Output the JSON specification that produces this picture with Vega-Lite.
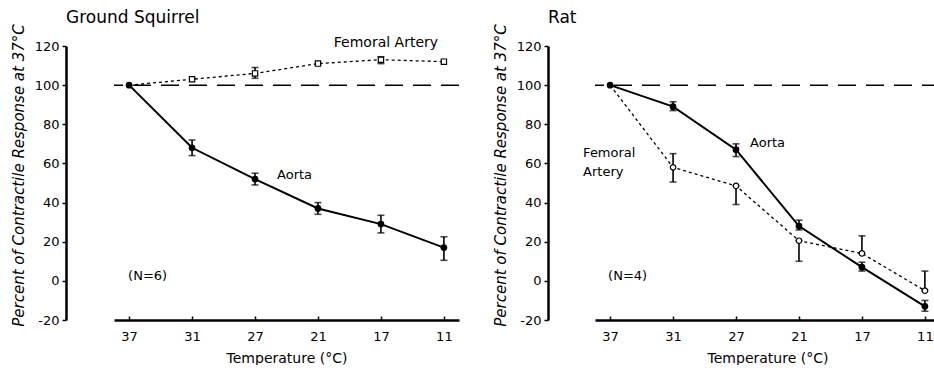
{
  "$schema": "https://vega.github.io/schema/vega-lite/v6.json",
  "background": "white",
  "padding": {"left": 11, "top": 8, "right": 0, "bottom": 0},
  "config": {
    "view": {"stroke": null},
    "font": "DejaVu Sans",
    "axis": {"labelFont": "DejaVu Sans", "titleFont": "DejaVu Sans", "labelColor": "#000", "titleColor": "#000", "domainColor": "#000", "tickColor": "#000", "grid": false, "labelFontSize": 13, "titleFontSize": 14, "titleFontWeight": "normal", "labelOverlap": false},
    "title": {"font": "DejaVu Sans", "fontSize": 17, "fontWeight": "normal", "color": "#000", "anchor": "start", "frame": "group"},
    "concat": {"spacing": 33}
  },
  "datasets": {
    "pts": [
      {"panel": "Ground Squirrel", "series": "Aorta", "temp": "37", "value": 100, "lo": null, "hi": null},
      {"panel": "Ground Squirrel", "series": "Aorta", "temp": "31", "value": 68, "lo": 64, "hi": 72},
      {"panel": "Ground Squirrel", "series": "Aorta", "temp": "27", "value": 52, "lo": 49, "hi": 55},
      {"panel": "Ground Squirrel", "series": "Aorta", "temp": "21", "value": 37, "lo": 34, "hi": 40},
      {"panel": "Ground Squirrel", "series": "Aorta", "temp": "17", "value": 29, "lo": 24.5, "hi": 33.5},
      {"panel": "Ground Squirrel", "series": "Aorta", "temp": "11", "value": 17, "lo": 10.5, "hi": 22.5},
      {"panel": "Ground Squirrel", "series": "Femoral Artery", "temp": "37", "value": 100, "lo": null, "hi": null},
      {"panel": "Ground Squirrel", "series": "Femoral Artery", "temp": "31", "value": 103, "lo": null, "hi": null},
      {"panel": "Ground Squirrel", "series": "Femoral Artery", "temp": "27", "value": 106, "lo": 103.5, "hi": 109},
      {"panel": "Ground Squirrel", "series": "Femoral Artery", "temp": "21", "value": 111, "lo": null, "hi": null},
      {"panel": "Ground Squirrel", "series": "Femoral Artery", "temp": "17", "value": 113, "lo": 111, "hi": 114.5},
      {"panel": "Ground Squirrel", "series": "Femoral Artery", "temp": "11", "value": 112, "lo": null, "hi": null},
      {"panel": "Rat", "series": "Aorta", "temp": "37", "value": 100, "lo": null, "hi": null},
      {"panel": "Rat", "series": "Aorta", "temp": "31", "value": 89, "lo": 87, "hi": 91.5},
      {"panel": "Rat", "series": "Aorta", "temp": "27", "value": 67, "lo": 63.5, "hi": 70},
      {"panel": "Rat", "series": "Aorta", "temp": "21", "value": 28, "lo": 26, "hi": 31},
      {"panel": "Rat", "series": "Aorta", "temp": "17", "value": 7, "lo": 5, "hi": 9.5},
      {"panel": "Rat", "series": "Aorta", "temp": "11", "value": -13, "lo": -15.5, "hi": -10},
      {"panel": "Rat", "series": "Femoral Artery", "temp": "37", "value": 100, "lo": null, "hi": null},
      {"panel": "Rat", "series": "Femoral Artery", "temp": "31", "value": 58, "lo": 50.5, "hi": 65},
      {"panel": "Rat", "series": "Femoral Artery", "temp": "27", "value": 48.5, "lo": 39, "hi": 48.5},
      {"panel": "Rat", "series": "Femoral Artery", "temp": "21", "value": 20.5, "lo": 10, "hi": 20.5},
      {"panel": "Rat", "series": "Femoral Artery", "temp": "17", "value": 14, "lo": 14, "hi": 23},
      {"panel": "Rat", "series": "Femoral Artery", "temp": "11", "value": -5, "lo": -5, "hi": 5}
    ]
  },
  "hconcat": [
    {
      "width": 345,
      "height": 274,
      "title": {"text": "Ground  Squirrel", "dx": -48, "offset": -3},
      "data": {"name": "pts"},
      "transform": [{"filter": "datum.panel == 'Ground Squirrel'"}],
      "layer": [
        {
          "transform": [{"filter": "datum.series == 'Femoral Artery'"}],
          "mark": {"type": "line", "color": "#000", "strokeWidth": 1.3, "strokeDash": [3, 3]},
          "encoding": {
            "x": {"field": "temp", "type": "ordinal", "sort": ["37", "31", "27", "21", "17", "11"], "scale": {"type": "point", "padding": 0.24}, "axis": {"title": "Temperature  (°C)", "labelAngle": 0, "domainWidth": 2.5, "tickSize": -4, "tickWidth": 1.5, "labelPadding": 14, "titlePadding": 8}},
            "y": {"field": "value", "type": "quantitative", "title": "Percent of Contractile Response at 37°C", "scale": {"domain": [-20, 120], "nice": false}, "axis": {"values": [-20, 0, 20, 40, 60, 80, 100, 120], "tickCount": 8, "labelOverlap": false, "labelBound": false, "labelFlush": false, "labelExpr": "'' + datum.value", "offset": 48, "domainWidth": 2.5, "tickSize": 4, "tickWidth": 1.5, "labelPadding": 3, "titleFontStyle": "italic", "titleFontSize": 15, "titlePadding": 8, "titleY": 129}}
          }
        },
        {
          "data": {"values": [{}]},
          "mark": {"type": "rule", "color": "#000", "strokeWidth": 1.5, "strokeDash": [18, 10]},
          "encoding": {"y": {"datum": 100, "type": "quantitative"}}
        },
        {
          "transform": [{"filter": "datum.series == 'Aorta'"}],
          "mark": {"type": "line", "color": "#000", "strokeWidth": 2},
          "encoding": {
            "x": {"field": "temp", "type": "ordinal", "sort": ["37", "31", "27", "21", "17", "11"]},
            "y": {"field": "value", "type": "quantitative", "title": "Percent of Contractile Response at 37°C"}
          }
        },
        {
          "transform": [{"filter": "datum.lo != null"}],
          "mark": {"type": "errorbar", "color": "#000", "thickness": 1.6, "ticks": {"size": 7, "thickness": 1.6}},
          "encoding": {
            "x": {"field": "temp", "type": "ordinal", "sort": ["37", "31", "27", "21", "17", "11"]},
            "y": {"field": "lo", "type": "quantitative", "title": "Percent of Contractile Response at 37°C"},
            "y2": {"field": "hi"}
          }
        },
        {
          "transform": [{"filter": "datum.series == 'Femoral Artery' && datum.temp != '37'"}],
          "mark": {"type": "point", "shape": "square", "filled": true, "fill": "white", "stroke": "#000", "strokeWidth": 1.2, "size": 28, "opacity": 1},
          "encoding": {
            "x": {"field": "temp", "type": "ordinal", "sort": ["37", "31", "27", "21", "17", "11"]},
            "y": {"field": "value", "type": "quantitative", "title": "Percent of Contractile Response at 37°C"}
          }
        },
        {
          "transform": [{"filter": "datum.series == 'Aorta'"}],
          "mark": {"type": "point", "shape": "circle", "filled": true, "color": "#000", "size": 45, "opacity": 1},
          "encoding": {
            "x": {"field": "temp", "type": "ordinal", "sort": ["37", "31", "27", "21", "17", "11"]},
            "y": {"field": "value", "type": "quantitative", "title": "Percent of Contractile Response at 37°C"}
          }
        },
        {
          "data": {"values": [{}]},
          "mark": {"type": "text", "align": "center", "baseline": "middle", "dx": 5, "fontSize": 14, "color": "#000"},
          "encoding": {"x": {"datum": "17"}, "y": {"datum": 121.5}, "text": {"value": "Femoral  Artery"}}
        },
        {
          "data": {"values": [{}]},
          "mark": {"type": "text", "align": "left", "baseline": "middle", "dx": 22, "fontSize": 13, "color": "#000"},
          "encoding": {"x": {"datum": "27"}, "y": {"datum": 54}, "text": {"value": "Aorta"}}
        },
        {
          "data": {"values": [{}]},
          "mark": {"type": "text", "align": "left", "baseline": "middle", "dx": -1, "fontSize": 13, "color": "#000"},
          "encoding": {"x": {"datum": "37"}, "y": {"datum": 2.5}, "text": {"value": "(N=6)"}}
        }
      ]
    },
    {
      "width": 345,
      "height": 274,
      "title": {"text": "Rat", "dx": -47, "offset": -3},
      "data": {"name": "pts"},
      "transform": [{"filter": "datum.panel == 'Rat'"}],
      "layer": [
        {
          "transform": [{"filter": "datum.series == 'Femoral Artery'"}],
          "mark": {"type": "line", "color": "#000", "strokeWidth": 1.3, "strokeDash": [3, 3]},
          "encoding": {
            "x": {"field": "temp", "type": "ordinal", "sort": ["37", "31", "27", "21", "17", "11"], "scale": {"type": "point", "padding": 0.24}, "axis": {"title": "Temperature  (°C)", "labelAngle": 0, "domainWidth": 2.5, "tickSize": -4, "tickWidth": 1.5, "labelPadding": 14, "titlePadding": 8}},
            "y": {"field": "value", "type": "quantitative", "title": "Percent of Contractile Response at 37°C", "scale": {"domain": [-20, 120], "nice": false}, "axis": {"values": [-20, 0, 20, 40, 60, 80, 100, 120], "tickCount": 8, "labelOverlap": false, "labelBound": false, "labelFlush": false, "labelExpr": "'' + datum.value", "offset": 47, "domainWidth": 2.5, "tickSize": 4, "tickWidth": 1.5, "labelPadding": 3, "titleFontStyle": "italic", "titleFontSize": 15, "titlePadding": 8, "titleY": 129}}
          }
        },
        {
          "data": {"values": [{}]},
          "mark": {"type": "rule", "color": "#000", "strokeWidth": 1.5, "strokeDash": [18, 10]},
          "encoding": {"y": {"datum": 100, "type": "quantitative"}}
        },
        {
          "transform": [{"filter": "datum.series == 'Aorta'"}],
          "mark": {"type": "line", "color": "#000", "strokeWidth": 2},
          "encoding": {
            "x": {"field": "temp", "type": "ordinal", "sort": ["37", "31", "27", "21", "17", "11"]},
            "y": {"field": "value", "type": "quantitative", "title": "Percent of Contractile Response at 37°C"}
          }
        },
        {
          "transform": [{"filter": "datum.lo != null"}],
          "mark": {"type": "errorbar", "color": "#000", "thickness": 1.6, "ticks": {"size": 7, "thickness": 1.6}},
          "encoding": {
            "x": {"field": "temp", "type": "ordinal", "sort": ["37", "31", "27", "21", "17", "11"]},
            "y": {"field": "lo", "type": "quantitative", "title": "Percent of Contractile Response at 37°C"},
            "y2": {"field": "hi"}
          }
        },
        {
          "transform": [{"filter": "datum.series == 'Femoral Artery' && datum.temp != '37'"}],
          "mark": {"type": "point", "shape": "circle", "filled": true, "fill": "white", "stroke": "#000", "strokeWidth": 1.2, "size": 30, "opacity": 1},
          "encoding": {
            "x": {"field": "temp", "type": "ordinal", "sort": ["37", "31", "27", "21", "17", "11"]},
            "y": {"field": "value", "type": "quantitative", "title": "Percent of Contractile Response at 37°C"}
          }
        },
        {
          "transform": [{"filter": "datum.series == 'Aorta'"}],
          "mark": {"type": "point", "shape": "circle", "filled": true, "color": "#000", "size": 45, "opacity": 1},
          "encoding": {
            "x": {"field": "temp", "type": "ordinal", "sort": ["37", "31", "27", "21", "17", "11"]},
            "y": {"field": "value", "type": "quantitative", "title": "Percent of Contractile Response at 37°C"}
          }
        },
        {
          "data": {"values": [{}]},
          "mark": {"type": "text", "align": "left", "baseline": "middle", "dx": -27, "fontSize": 13, "lineHeight": 19, "color": "#000"},
          "encoding": {"x": {"datum": "37"}, "y": {"datum": 65.4}, "text": {"value": ["Femoral", "Artery"]}}
        },
        {
          "data": {"values": [{}]},
          "mark": {"type": "text", "align": "left", "baseline": "middle", "dx": 14, "fontSize": 13, "color": "#000"},
          "encoding": {"x": {"datum": "27"}, "y": {"datum": 70.5}, "text": {"value": "Aorta"}}
        },
        {
          "data": {"values": [{}]},
          "mark": {"type": "text", "align": "left", "baseline": "middle", "dx": -2, "fontSize": 13, "color": "#000"},
          "encoding": {"x": {"datum": "37"}, "y": {"datum": 2.4}, "text": {"value": "(N=4)"}}
        }
      ]
    }
  ]
}
